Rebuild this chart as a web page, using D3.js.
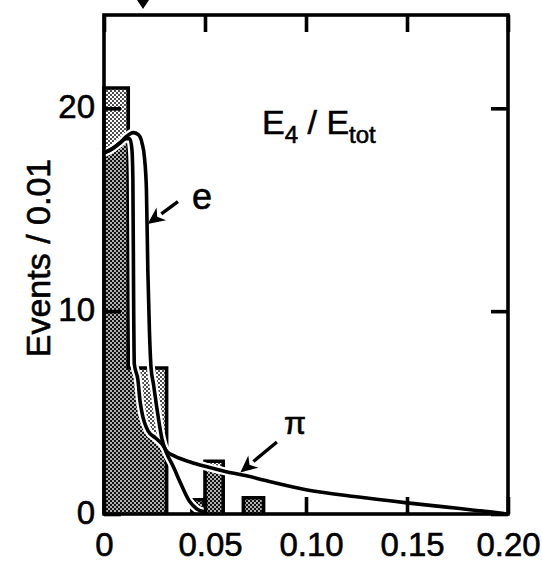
<!DOCTYPE html>
<html><head><meta charset="utf-8">
<script src="https://cdn.jsdelivr.net/npm/d3@7/dist/d3.min.js"></script>
<style>
html,body{margin:0;padding:0;background:#fff;}
svg{display:block;}
text{font-family:"Liberation Sans",Arial,Helvetica,sans-serif;fill:#000;stroke:#000;stroke-width:0.6px;}
</style></head>
<body>
<svg id="chart" width="542" height="566"></svg>
<script>
// ---- data ----
const binStart  = [0.000, 0.012, 0.0435, 0.050, 0.069];
const binEnd    = [0.012, 0.031, 0.0495, 0.059, 0.079];
const binCounts = [21.0, 7.2, 0.7, 2.6, 0.8];

const eX = [0, 0.004, 0.008, 0.011, 0.0145, 0.0170, 0.0188, 0.0200, 0.0210, 0.0217, 0.0225, 0.0233, 0.0245, 0.0265, 0.0287, 0.0310, 0.0340, 0.0380, 0.0425, 0.0460, 0.0500];
const eY = [17.8, 18.0, 18.3, 18.6, 18.8, 18.7, 18.3, 17.6, 16.0, 12.0, 9.0, 7.2, 6.4, 5.0, 3.7, 3.0, 2.4, 1.5, 0.6, 0.25, 0.1];

const piX = [0, 0.004, 0.008, 0.011, 0.0128, 0.0138, 0.0143, 0.0147, 0.0150, 0.0168, 0.0178, 0.0188, 0.0218, 0.0255, 0.0287, 0.0310, 0.0350, 0.0430, 0.0500, 0.0600, 0.0700, 0.0800, 0.1000, 0.1250, 0.1500, 0.1750, 0.1900, 0.1980];
const piY = [17.8, 18.0, 18.3, 18.5, 18.5, 18.0, 16.5, 10.0, 7.4, 6.6, 5.6, 5.0, 4.1, 3.75, 3.45, 3.1, 2.85, 2.55, 2.35, 2.1, 1.9, 1.65, 1.2, 0.85, 0.55, 0.28, 0.12, 0.02];

const xTicks = [0, 0.05, 0.10, 0.15, 0.20];
const xTickLabels = ["0", "0.05", "0.10", "0.15", "0.20"];
const yTicks = [0, 10, 20];
const yTickLabels = ["0", "10", "20"];
const xDomain = [0, 0.20];
const yDomain = [0, 24.6];

const yTitle = "Events / 0.01";
const curveLabels = ["e", "\u03c0"];
// annotation arrows in data units: [fromX, fromY, toX, toY]
const eArrow = [0.0366, 15.4, 0.0216, 14.3];
const piArrow = [0.0856, 3.55, 0.0675, 2.05];

// ---- drawing ----
const svg = d3.select("#chart");
const x = d3.scaleLinear().domain(xDomain).range([104, 508]);
const y = d3.scaleLinear().domain(yDomain).range([514, 15]);
const LW = 3.6;

const defs = svg.append("defs");
const light = defs.append("pattern").attr("id","light").attr("patternUnits","userSpaceOnUse")
  .attr("width",4).attr("height",4);
light.append("rect").attr("width",4).attr("height",4).attr("fill","#fff");
light.append("circle").attr("cx",1).attr("cy",1).attr("r",0.95).attr("fill","#000");
light.append("circle").attr("cx",3).attr("cy",3).attr("r",0.95).attr("fill","#000");
const dark = defs.append("pattern").attr("id","dark").attr("patternUnits","userSpaceOnUse")
  .attr("width",4).attr("height",4);
dark.append("rect").attr("width",4).attr("height",4).attr("fill","#111");
dark.append("circle").attr("cx",1).attr("cy",1).attr("r",0.9).attr("fill","#fff");
dark.append("circle").attr("cx",3).attr("cy",3).attr("r",0.9).attr("fill","#fff");

const bins = binStart.map((s,i)=>({x0:s, x1:binEnd[i], v:binCounts[i]}));
const clip = defs.append("clipPath").attr("id","barclip");
clip.selectAll("rect").data(bins).join("rect")
  .attr("x",d=>x(d.x0)).attr("y",d=>y(d.v))
  .attr("width",d=>x(d.x1)-x(d.x0)).attr("height",d=>y(0)-y(d.v));

// light fill
svg.append("g").selectAll("rect").data(bins).join("rect")
  .attr("x",d=>x(d.x0)).attr("y",d=>y(d.v))
  .attr("width",d=>x(d.x1)-x(d.x0)).attr("height",d=>y(0)-y(d.v))
  .attr("fill","url(#light)");

const ePts = eX.map((v,i)=>[v,eY[i]]);
const piPts = piX.map((v,i)=>[v,piY[i]]);
const curve = d3.curveMonotoneX;

// dark fill under pi curve inside bars
svg.append("path").datum(piPts)
  .attr("d", d3.area().x(d=>x(d[0])).y0(y(0)).y1(d=>y(d[1])).curve(curve))
  .attr("fill","url(#dark)").attr("clip-path","url(#barclip)");

// histogram outline (step)
let pathStr = "";
bins.forEach((b,i)=>{
  const prev = bins[i-1], next = bins[i+1];
  if(!prev || Math.abs(prev.x1-b.x0)>1e-9){ pathStr += `M${x(b.x0)},${y(0)}L${x(b.x0)},${y(b.v)}`; }
  else { pathStr += `L${x(b.x0)},${y(b.v)}`; }
  pathStr += `L${x(b.x1)},${y(b.v)}`;
  if(next && Math.abs(next.x0-b.x1)<1e-9){ pathStr += `L${x(b.x1)},${y(next.v)}`; }
  else { pathStr += `L${x(b.x1)},${y(0)}`; }
});
svg.append("path").attr("d",pathStr).attr("fill","none").attr("stroke","#000")
  .attr("stroke-width",LW).attr("stroke-linejoin","miter");

// curves with white halos
const line = d3.line().x(d=>x(d[0])).y(d=>y(d[1])).curve(curve);
[piPts, ePts].forEach(p=>{
  svg.append("path").datum(p).attr("d",line).attr("fill","none")
    .attr("stroke","#fff").attr("stroke-width",LW+4.5).attr("stroke-linejoin","round");
});
[piPts, ePts].forEach(p=>{
  svg.append("path").datum(p).attr("d",line).attr("fill","none")
    .attr("stroke","#000").attr("stroke-width",LW).attr("stroke-linejoin","round").attr("stroke-linecap","round");
});

// frame
svg.append("rect").attr("x",x(0)).attr("y",y(yDomain[1]))
  .attr("width",x(0.2)-x(0)).attr("height",y(0)-y(yDomain[1]))
  .attr("fill","none").attr("stroke","#000").attr("stroke-width",LW);

// axes
const TL = 17;
const fmtX = (d)=>xTickLabels[xTicks.indexOf(d)];
const fmtY = (d)=>yTickLabels[yTicks.indexOf(d)];
const gB = svg.append("g").attr("transform",`translate(0,${y(0)})`)
  .call(d3.axisBottom(x).tickValues(xTicks).tickFormat(fmtX).tickSizeInner(-TL).tickSizeOuter(0).tickPadding(19));
const gT = svg.append("g").attr("transform",`translate(0,${y(yDomain[1])})`)
  .call(d3.axisTop(x).tickValues(xTicks).tickFormat("").tickSizeInner(-TL).tickSizeOuter(0));
const gL = svg.append("g").attr("transform",`translate(${x(0)},0)`)
  .call(d3.axisLeft(y).tickValues(yTicks).tickFormat(fmtY).tickSizeInner(-TL).tickSizeOuter(0).tickPadding(9));
const gR = svg.append("g").attr("transform",`translate(${x(0.2)},0)`)
  .call(d3.axisRight(y).tickValues(yTicks).tickFormat("").tickSizeInner(-TL).tickSizeOuter(0));
[gB,gT,gL,gR].forEach(g=>{
  g.select(".domain").remove();
  g.selectAll(".tick line").attr("stroke","#000").attr("stroke-width",LW);
  g.selectAll("text").attr("font-family","Liberation Sans, Arial, sans-serif").attr("font-size",33)
    .attr("fill","#000").attr("stroke","#000").attr("stroke-width",0.6);
});
gB.selectAll(".tick text").attr("dx", d => (d===0||d===0.2)?0:5);
gL.selectAll(".tick text").attr("dy","0.28em");

// y title
svg.append("text").attr("transform","translate(50,258) rotate(-90)")
  .attr("text-anchor","middle").attr("font-size",34).text(yTitle);

// E4 / Etot
const t = svg.append("text").attr("x",262).attr("y",134).attr("font-size",34);
t.append("tspan").text("E");
t.append("tspan").attr("font-size",24).attr("dy",9).text("4");
t.append("tspan").attr("dy",-9).text(" / E");
t.append("tspan").attr("font-size",24).attr("dy",9).text("tot");

// curve labels
svg.append("text").attr("x",192).attr("y",209).attr("font-size",36).text(curveLabels[0]);
svg.append("text").attr("x",284).attr("y",434).attr("font-size",32).text(curveLabels[1]);

// arrows
function arrow(a){
  const x1=x(a[0]), y1=y(a[1]), x2=x(a[2]), y2=y(a[3]);
  const ang = Math.atan2(y2-y1, x2-x1);
  const hl = 17, hw = 8;
  const bx = x2 - hl*Math.cos(ang), by = y2 - hl*Math.sin(ang);
  svg.append("line").attr("x1",x1).attr("y1",y1).attr("x2",bx).attr("y2",by)
    .attr("stroke","#000").attr("stroke-width",3.4);
  const px = -Math.sin(ang), py = Math.cos(ang);
  svg.append("path").attr("d",`M${x2},${y2}L${bx+px*hw},${by+py*hw}L${bx+hl*0.3*Math.cos(ang)},${by+hl*0.3*Math.sin(ang)}L${bx-px*hw},${by-py*hw}Z`)
    .attr("fill","#000");
}
arrow(eArrow);
arrow(piArrow);

// small cropped marker at the top edge
svg.append("path").attr("d","M137,0L149,0L143,9Z").attr("fill","#000");
</script>
</body></html>
